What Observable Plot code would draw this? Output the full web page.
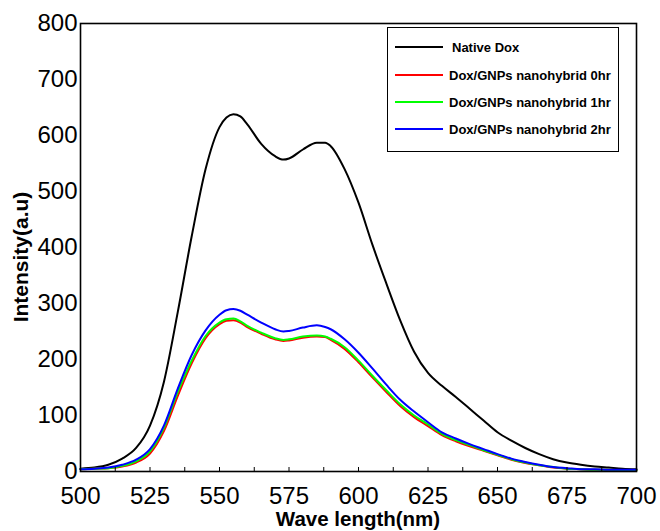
<!DOCTYPE html>
<html>
<head>
<meta charset="utf-8">
<script src="https://cdn.jsdelivr.net/npm/d3@7"></script>
<script src="https://cdn.jsdelivr.net/npm/@observablehq/plot@0.6"></script>
<style>
  html, body { margin: 0; padding: 0; background: #fff; }
  #chart { width: 660px; height: 531px; }
</style>
</head>
<body>
<div id="chart"></div>
<script>
const wavelengths = [500,505,510,515,520,525,530,535,540,545,550,552.5,555,557.5,560,565,570,573,575,580,585,588,590,595,600,605,610,615,620,625,630,635,640,645,650,655,660,665,670,675,680,685,690,695,700];

const nativeDox = [5,7,12,23,42,82,160,285,420,540,615,632,638,634,620,585,563,557,559,575,587,587,581,540,480,405,336,270,214,176,153,133,112,91,70,55,42,31,22,16,12,9,7,5,4];
const gnp0hr   = [4,5,6,9,16,32,72,135,193,238,263,269,270,266,258,246,236,233,234,239,241,240,235,219,195,168,142,117,97,81,65,54,45,37,29,21,15,11,7,5,4,3,3,2,2];
const gnp1hr   = [4,5,6,10,18,36,78,142,198,242,266,272,273,268,260,248,238,235,236,241,243,241,237,222,198,171,145,120,100,84,67,56,47,38,30,22,16,11,8,5,4,3,3,2,2];
const gnp2hr   = [4,5,7,12,21,40,82,148,208,252,280,288,290,287,280,266,254,250,251,257,261,258,254,236,212,184,155,128,107,88,70,59,49,40,31,23,17,12,8,6,4,4,3,3,3];

const seriesNames  = ["Native Dox", "Dox/GNPs nanohybrid 0hr", "Dox/GNPs nanohybrid 1hr", "Dox/GNPs nanohybrid 2hr"];
const seriesColors = ["#000000", "#ff0000", "#00ff00", "#0000ff"];
const seriesValues = [nativeDox, gnp0hr, gnp1hr, gnp2hr];

const xTicks = [500,525,550,575,600,625,650,675,700];
const xMinorTicks = [512.5,525,537.5,550,562.5,575,587.5,600,612.5,625,637.5,650,662.5,675,687.5];
const yTicks = [0,100,200,300,400,500,600,700,800];
const xTitle = "Wave length(nm)";
const yTitle = "Intensity(a.u)";

const rows = [];
seriesNames.forEach((name, i) => {
  wavelengths.forEach((wl, j) => rows.push({series: name, wl, value: seriesValues[i][j]}));
});

const W = 660, H = 531, mL = 80, mR = 24, mT = 23, mB = 60;

const chart = Plot.plot({
  width: W, height: H,
  marginLeft: mL, marginRight: mR, marginTop: mT, marginBottom: mB,
  style: {fontFamily: "'Liberation Sans', Arial, sans-serif", background: "white", color: "black", overflow: "visible"},
  x: {domain: [500, 700]},
  y: {domain: [0, 800]},
  color: {domain: seriesNames, range: seriesColors},
  marks: [
    Plot.line(rows, {x: "wl", y: "value", z: "series", stroke: "series", strokeWidth: 2, curve: "monotone-x"}),
    Plot.axisX({ticks: xMinorTicks, tickSize: -4, text: null, label: null, strokeWidth: 1}),
    Plot.axisX({ticks: xTicks, tickSize: 0, tickPadding: 15, fontSize: 24, label: null, tickFormat: d => String(d)}),
    Plot.axisY({ticks: yTicks, tickSize: 0, tickPadding: 3, fontSize: 24, label: null, tickFormat: d => String(d)}),
    Plot.frame({stroke: "black", strokeWidth: 1.6})
  ]
});

document.getElementById("chart").appendChild(chart);

const svg = d3.select(chart);

// axis titles
svg.append("text")
  .attr("x", (mL + W - mR) / 2)
  .attr("y", 526)
  .attr("text-anchor", "middle")
  .attr("font-size", 20.5)
  .attr("font-weight", "bold")
  .attr("fill", "black")
  .text(xTitle);

svg.append("text")
  .attr("transform", `translate(28, ${257}) rotate(-90)`)
  .attr("text-anchor", "middle")
  .attr("font-size", 21)
  .attr("font-weight", "bold")
  .attr("fill", "black")
  .text(yTitle);

// legend
const lg = svg.append("g");
lg.append("rect")
  .attr("x", 387.5).attr("y", 27.5).attr("width", 231).attr("height", 124)
  .attr("fill", "white").attr("stroke", "black").attr("stroke-width", 1);
const rowY = [47, 75, 102, 129];
seriesNames.forEach((name, i) => {
  lg.append("line")
    .attr("x1", 395).attr("x2", 443).attr("y1", rowY[i]).attr("y2", rowY[i])
    .attr("stroke", seriesColors[i]).attr("stroke-width", 2);
  lg.append("text")
    .attr("x", i === 0 ? 452 : 449).attr("y", rowY[i]).attr("dy", "0.35em")
    .attr("text-anchor", "start")
    .attr("font-size", 13).attr("font-weight", "bold").attr("fill", "black")
    .text(name);
});
</script>
</body>
</html>
